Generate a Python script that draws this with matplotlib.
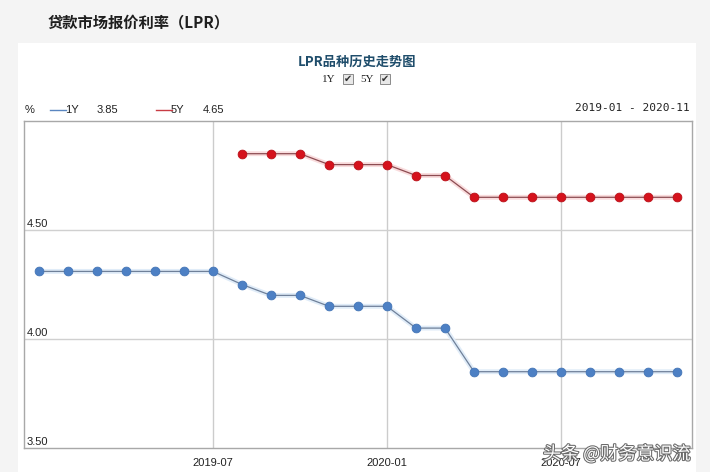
import matplotlib
matplotlib.use("Agg")
import matplotlib.pyplot as plt
import matplotlib.patheffects as pe
from matplotlib.patches import Rectangle

plt.rcParams['font.family'] = ['Liberation Sans', 'Noto Sans CJK SC', 'DejaVu Sans']

months = ['2019-01', '2019-02', '2019-03', '2019-04', '2019-05', '2019-06', '2019-07',
          '2019-08', '2019-09', '2019-10', '2019-11', '2019-12', '2020-01', '2020-02',
          '2020-03', '2020-04', '2020-05', '2020-06', '2020-07', '2020-08', '2020-09',
          '2020-10', '2020-11']
lpr_1y = [4.31, 4.31, 4.31, 4.31, 4.31, 4.31, 4.31, 4.25, 4.20, 4.20, 4.15, 4.15,
          4.15, 4.05, 4.05, 3.85, 3.85, 3.85, 3.85, 3.85, 3.85, 3.85, 3.85]
lpr_5y = [None] * 7 + [4.85, 4.85, 4.85, 4.80, 4.80, 4.80, 4.75, 4.75, 4.65, 4.65,
                       4.65, 4.65, 4.65, 4.65, 4.65, 4.65]
x_ticks = ['2019-07', '2020-01', '2020-07']
y_ticks = [3.50, 4.00, 4.50]

W, H = 710, 472
fig = plt.figure(figsize=(W / 100, H / 100), dpi=100)
fig.patch.set_facecolor('#f4f4f4')

def fx(px):
    return px / W

def fy(py):
    return 1 - py / H

# white panel
fig.patches.append(Rectangle((fx(18), 0), fx(696) - fx(18), fy(43), transform=fig.transFigure,
                             facecolor='white', edgecolor='none', zorder=-5))

ax = fig.add_axes([fx(24), fy(448), fx(692) - fx(24), fy(121) - fy(448)])
ax.set_zorder(2)
ax.set_facecolor('white')

xs = list(range(len(months)))
x5 = [i for i, v in enumerate(lpr_5y) if v is not None]
v5 = [v for v in lpr_5y if v is not None]

blue = '#4d80c4'
red = '#d5121c'
# halos
ax.plot(xs, lpr_1y, color='#e0ecf8', lw=3.5, solid_capstyle='round', zorder=2)
ax.plot(x5, v5, color='#f9dcdd', lw=3.5, solid_capstyle='round', zorder=2)
ax.plot(xs, lpr_1y, color='#6f8099', lw=0.9, zorder=3)
ax.plot(x5, v5, color='#8c4c52', lw=0.9, zorder=3)
ax.plot(xs, lpr_1y, 'o', color=blue, ms=6.3, mec='#4274b6', mew=0.6, zorder=4)
ax.plot(x5, v5, 'o', color=red, ms=6.3, mec='#b90f18', mew=0.6, zorder=4)

ax.set_xlim(-0.52, 22.52)
ax.set_ylim(3.5, 5.0)

tick_pos = [months.index(m) for m in x_ticks]
for p in tick_pos:
    ax.axvline(p, color='#cccccc', lw=1, zorder=1)
for v in y_ticks[1:]:
    ax.axhline(v, color='#d0d0d0', lw=1, zorder=1)

ax.set_xticks([])
ax.set_yticks([])
for s in ax.spines.values():
    s.set_color('#a8a8a8')
    s.set_linewidth(1)

for v in y_ticks:
    ax.text(0.004, v + 0.005, f'{v:.2f}', transform=ax.get_yaxis_transform(),
            ha='left', va='bottom', fontsize=8, color='#222222')
for p, lab in zip(tick_pos, x_ticks):
    ax.text(p, 3.5 - 0.045, lab, ha='center', va='top', fontsize=8, color='#222222',
            transform=ax.transData, clip_on=False)

# page title
fig.text(fx(48), fy(22), '贷款市场报价利率（LPR）', fontsize=11, fontweight='bold',
         color='#1e1e1e', ha='left', va='center', family=['Noto Sans CJK SC'])
# chart title
fig.text(fx(357), fy(62), 'LPR品种历史走势图', fontsize=9.5, fontweight='bold',
         color='#1f4d6b', ha='center', va='center', family=['Noto Sans CJK SC'])

# checkboxes
def checkbox(xc, label_x, label):
    fig.text(fx(label_x), fy(79), label, fontsize=8, ha='left', va='center',
             color='#222222', family=['Liberation Serif'])
    fig.patches.append(Rectangle((fx(xc - 5), fy(84)), fx(10), fy(74) - fy(84),
                                 transform=fig.transFigure, facecolor='#e8e8e8',
                                 edgecolor='#8a8a8a', lw=0.7, zorder=3))
    fig.text(fx(xc), fy(79), '✔', fontsize=7, ha='center', va='center', color='#333333',
             family=['DejaVu Sans'], zorder=4)

checkbox(348, 322, '1Y')
checkbox(385, 360, '5Y')

# legend row
ly = 110
fig.text(fx(25), fy(ly), '%', fontsize=8, ha='left', va='center', color='#222222')
fig.lines.append(plt.Line2D([fx(50), fx(66)], [fy(ly), fy(ly)], transform=fig.transFigure,
                            color='#5a86c0', lw=1))
fig.text(fx(65), fy(ly), '1Y', fontsize=8, ha='left', va='center', color='#222222')
fig.text(fx(97), fy(ly), f'{lpr_1y[-1]:.2f}', fontsize=8, ha='left', va='center', color='#222222')
fig.lines.append(plt.Line2D([fx(156), fx(172)], [fy(ly), fy(ly)], transform=fig.transFigure,
                            color='#c83c44', lw=1))
fig.text(fx(171), fy(ly), '5Y', fontsize=8, ha='left', va='center', color='#222222')
fig.text(fx(203), fy(ly), f'{v5[-1]:.2f}', fontsize=8, ha='left', va='center', color='#222222')
fig.text(fx(690), fy(108), f'{months[0]} - {months[-1]}', fontsize=8, ha='right',
         va='center', color='#222222', family=['DejaVu Sans Mono'])

# watermark
wm = fig.text(fx(690), fy(454), '头条 @财务意识流', fontsize=13, ha='right', va='center',
              color='white', family=['Noto Sans CJK SC'],
              path_effects=[pe.withStroke(linewidth=1.5, foreground='#6a6a6a')])
wm.set_zorder(10)

fig.savefig('out.png', dpi=100, facecolor=fig.get_facecolor())
